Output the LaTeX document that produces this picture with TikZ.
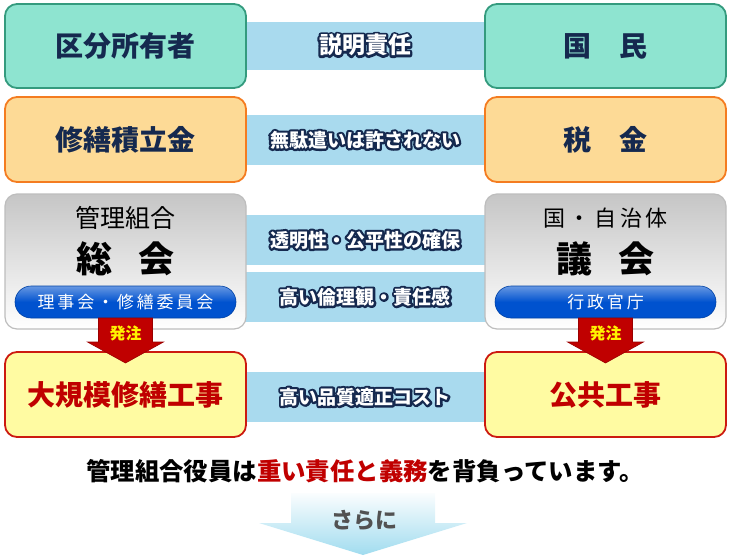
\documentclass[tikz,border=0pt]{standalone}
\usepackage{fontspec}
\setmainfont{Noto Sans CJK JP}
\definecolor{mint}{HTML}{8EE4D0}
\definecolor{mintb}{HTML}{349B7E}
\definecolor{peach}{HTML}{FDDA96}
\definecolor{peachb}{HTML}{F47C20}
\definecolor{paley}{HTML}{FFFBA2}
\definecolor{redb}{HTML}{CC1A10}
\definecolor{darkred}{HTML}{C00000}
\definecolor{navy}{HTML}{15294F}
\definecolor{band}{HTML}{A9DAEE}
\definecolor{grayb}{HTML}{BDBDBD}
\definecolor{pillb}{HTML}{0052CF}
\newcommand{\outltext}[1]{\rlap{\special{pdf:code q 1 Tr 4.4 w 1 j}\textcolor{navy}{#1}\special{pdf:code Q}}\textcolor{white}{#1}}
\begin{document}
\begin{tikzpicture}[x=1pt,y=-1pt,
  box/.style={rounded corners=12pt, line width=1.8pt, minimum width=241pt, inner sep=0pt},
  mintbox/.style={box, fill=mint, draw=mintb, minimum height=84pt},
  peachbox/.style={box, fill=peach, draw=peachb, minimum height=85pt},
  graybox/.style={box, top color=gray!45, bottom color=white, draw=grayb, line width=1.2pt, minimum height=135pt},
  yelbox/.style={box, fill=paley, draw=redb, minimum height=85pt},
  bandbox/.style={fill=band, draw=none, minimum width=250pt, inner sep=0pt},
  title/.style={font=\bfseries\fontsize{28}{32}\selectfont, text=navy},
  redtitle/.style={font=\bfseries\fontsize{28}{32}\selectfont, text=darkred},
  bandtext/.style={font=\bfseries\fontsize{19}{22}\selectfont},
  pill/.style={rounded corners=16pt, top color=pillb!60!white, bottom color=pillb, middle color=pillb, draw=pillb!80!black, line width=0.6pt, minimum width=221pt, minimum height=32pt, inner sep=0pt, text=white, font=\fontsize{17}{19}\selectfont},
  order/.style={fill=darkred, draw=darkred!80!black, line width=0.6pt},
  ordertext/.style={text=yellow, font=\bfseries\fontsize{16}{18}\selectfont}
]
\useasboundingbox (0,0) rectangle (730,555);

% bands
\node[bandbox, minimum height=48pt] (b1) at (365,46) {};
\node[bandbox, minimum height=50pt] (b2) at (365,140) {};
\node[bandbox, minimum height=50pt] (b3) at (365,240) {};
\node[bandbox, minimum height=50pt] (b4) at (365,297) {};
\node[bandbox, minimum height=50pt] (b5) at (365,397) {};
\node[bandtext, font=\bfseries\fontsize{23}{26}\selectfont] (t1) at (365,45) {\outltext{説明責任}};
\node[bandtext] (t2) at (365,140) {\outltext{無駄遣いは許されない}};
\node[bandtext] (t3) at (365,240) {\outltext{透明性・公平性の確保}};
\node[bandtext] (t4) at (365,297) {\outltext{高い倫理観・責任感}};
\node[bandtext] (t5) at (365,397) {\outltext{高い品質適正コスト}};

% row 1
\node[mintbox] (kubun) at (125.5,46) {};
\node[title] at (kubun.center) {区分所有者};
\node[mintbox] (kokumin) at (605.5,46) {};
\node[title] at (kokumin.center) {国\hspace{1em}民};

% row 2
\node[peachbox] (shuzen) at (125.5,139.5) {};
\node[title] at (shuzen.center) {修繕積立金};
\node[peachbox] (zeikin) at (605.5,139.5) {};
\node[title] at (zeikin.center) {税\hspace{1em}金};

% row 3
\node[graybox] (sokai) at (125.5,261.5) {};
\node[font=\fontsize{25}{27}\selectfont] (kanri) at (125.5,218) {管理組合};
\node[font=\bfseries\fontsize{36}{40}\selectfont] (sokait) at (125.5,259) {総\hspace{0.7em}会};
\node[pill] (riji) at (125.5,302) {理\,事\,会\,・\,修\,繕\,委\,員\,会};

\node[graybox] (gikai) at (605.5,261.5) {};
\node[font=\fontsize{22}{24}\selectfont] (kuni) at (605.5,218) {国\,・\,自\,治\,体};
\node[font=\bfseries\fontsize{36}{40}\selectfont] (gikait) at (605.5,259) {議\hspace{0.7em}会};
\node[pill] (gyosei) at (605.5,302) {行\,政\,官\,庁};

% row 4
\node[yelbox] (daikibo) at (125.5,394.5) {};
\node[redtitle] at (daikibo.center) {大規模修繕工事};
\node[yelbox] (kokyo) at (605.5,394.5) {};
\node[redtitle] at (kokyo.center) {公共工事};

% order arrows
\draw[order] (98.5,318) -- (152.5,318) -- (152.5,342) -- (163.5,342) -- (125.5,363) -- (87.5,342) -- (98.5,342) -- cycle;
\node[ordertext] (hl) at (125.5,333) {発注};
\draw[order] (578.5,318) -- (632.5,318) -- (632.5,342) -- (643.5,342) -- (605.5,363) -- (567.5,342) -- (578.5,342) -- cycle;
\node[ordertext] (hr) at (605.5,333) {発注};

% bottom sentence
\node[font=\bfseries\fontsize{24.4}{28}\selectfont] (sentence) at (365,471) {管理組合役員は\textcolor{darkred}{重い責任と義務}を背負っています。};

% sarani arrow
\shade[top color=white!95!band, bottom color=band!95!cyan] (291,493) -- (435,493) -- (435,523) -- (467,523) -- (363,555) -- (259,523) -- (291,523) -- cycle;
\node[font=\bfseries\fontsize{22}{24}\selectfont, text=black!68] (sarani) at (364,520) {さらに};
\end{tikzpicture}
\end{document}
